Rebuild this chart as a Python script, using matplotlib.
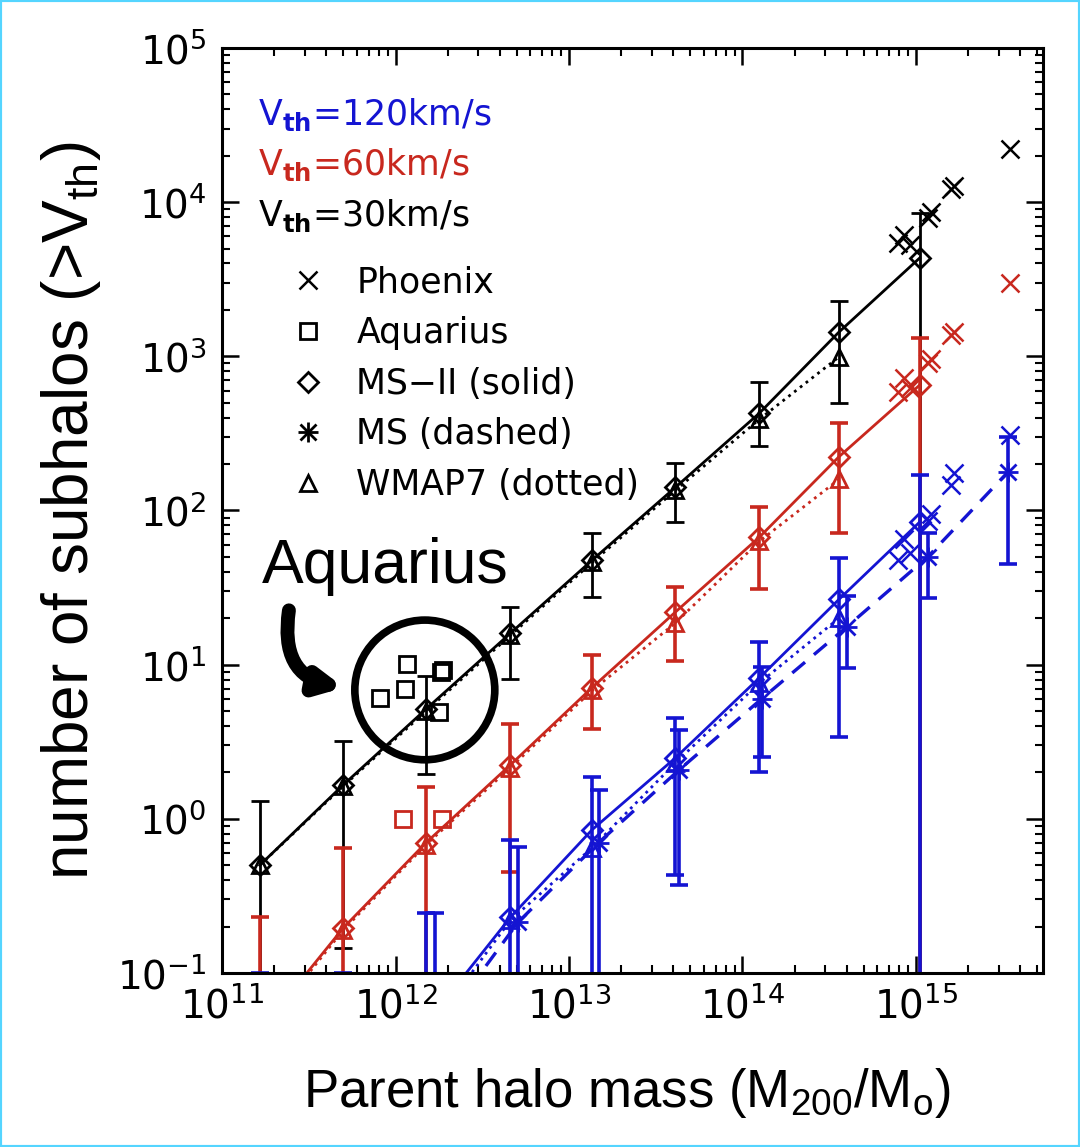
import numpy as np
import matplotlib
matplotlib.use('Agg')
import matplotlib.pyplot as plt
from matplotlib.lines import Line2D
from matplotlib.legend_handler import HandlerTuple
from matplotlib.patches import Ellipse, FancyArrowPatch, Rectangle
from matplotlib.ticker import LogLocator, NullFormatter

plt.rcParams['font.family'] = ['DejaVu Sans']
plt.rcParams['mathtext.fontset'] = 'custom'
plt.rcParams['mathtext.rm'] = 'Liberation Sans'
plt.rcParams['mathtext.bf'] = 'DejaVu Sans:bold'

BLUE = '#1414d2'
RED = '#c8281e'
LOW = 1e-3   # lower end for bars that run off the bottom of the plot

# MS-II (solid) mass bins and subhalo counts
mass_ms2 = [1.65e11, 5.0e11, 1.5e12, 4.6e12, 1.36e13, 4.1e13, 1.25e14, 3.6e14, 1.05e15]
n30_ms2 = [0.50, 1.66, 5.15, 16.0, 47.6, 141, 427, 1436, 4335]
n30_ms2_hi = [1.3, 3.2, 8.5, 23.5, 71, 204, 680, 2300, 8500]
n30_ms2_lo = [LOW, 0.145, 1.96, 8.1, 27.6, 84, 262, 500, LOW]
n60_ms2 = [0.042, 0.196, 0.70, 2.24, 7.1, 21.9, 67, 223, 650]
n60_ms2_hi = [0.23, 0.645, 1.6, 4.1, 11.5, 32, 105, 370, 1320]
n60_ms2_lo = [LOW, LOW, LOW, 0.45, 3.8, 10.5, 31, 71, LOW]
n120_ms2 = [0.005, 0.015, 0.047, 0.23, 0.85, 2.48, 8.2, 26.5, 84]
n120_ms2_hi = [0.1, 0.1, 0.245, 0.73, 1.86, 4.5, 14, 49, 170]
n120_ms2_lo = [LOW, LOW, LOW, LOW, LOW, 0.43, 2.0, 3.4, LOW]

# MS (dashed), only V_th=120 km/s
mass_ms = [1.7e12, 5.1e12, 1.48e13, 4.3e13, 1.29e14, 4.0e14, 1.17e15, 3.4e15]
n120_ms = [0.04, 0.214, 0.70, 2.07, 6.0, 17.6, 50, 178]
n120_ms_hi = [0.245, 0.66, 1.54, 3.77, 9.6, 28, 71, 300]
n120_ms_lo = [LOW, LOW, LOW, 0.37, 2.5, 9.5, 27, 45]

# WMAP7 (dotted)
mass_w7 = [1.65e11, 5.0e11, 1.5e12, 4.6e12, 1.36e13, 4.1e13, 1.25e14, 3.6e14]
n30_w7 = [0.50, 1.63, 5.0, 15.5, 46, 135, 390, 990]
n60_w7 = [0.04, 0.19, 0.68, 2.15, 6.8, 18.6, 63, 159]
n120_w7 = [0.004, 0.012, 0.04, 0.22, 0.65, 2.3, 7.6, 20]

# Phoenix clusters
mass_ph = [7.9e14, 8.5e14, 9.3e14, 1.18e15, 1.22e15, 1.6e15, 1.66e15, 3.5e15]
n30_ph = [5400, 6100, 5300, 7900, 8600, 12200, 12700, 22000]
n60_ph = [590, 720, 620, 900, 960, 1380, 1440, 3000]
n120_ph = [48, 65, 53, 85, 95, 146, 175, 310]

# Aquarius haloes
mass_aq = [8.1e11, 1.13e12, 1.17e12, 1.79e12, 1.84e12, 1.87e12]
n30_aq = [6.1, 7.0, 10.1, 4.9, 9.0, 9.2]
mass_aq60 = [1.11e12, 1.86e12]
n60_aq = [1.0, 1.0]


def errbars(ax, x, y, lo, hi, color, lw):
    y = np.asarray(y)
    yerr = [y - np.asarray(lo), np.asarray(hi) - y]
    ax.errorbar(x, y, yerr=yerr, fmt='none', ecolor=color, elinewidth=lw,
                capsize=6.5, capthick=lw)


fig = plt.figure(figsize=(10.8, 11.47), dpi=100)
ax = fig.add_axes([0.2056, 0.1517, 0.7601, 0.8065])
ax.set_xscale('log')
ax.set_yscale('log')
ax.set_xlim(1e11, 5.4e15)
ax.set_ylim(1e-1, 1e5)

mk = dict(mfc='none', mew=2)
for col, n2, hi, lo, nw in [('k', n30_ms2, n30_ms2_hi, n30_ms2_lo, n30_w7),
                            (RED, n60_ms2, n60_ms2_hi, n60_ms2_lo, n60_w7),
                            (BLUE, n120_ms2, n120_ms2_hi, n120_ms2_lo, n120_w7)]:
    lw = 2 if col == 'k' else 2.6
    errbars(ax, mass_ms2, n2, lo, hi, col, lw)
    ax.plot(mass_ms2, n2, '-', color=col, lw=2, marker='D', ms=10, mec=col, **mk)
    ax.plot(mass_w7, nw, ':', color=col, lw=2, marker='^', ms=12, mec=col, **mk)

errbars(ax, mass_ms, n120_ms, n120_ms_lo, n120_ms_hi, BLUE, 2.6)
ax.plot(mass_ms, n120_ms, '--', color=BLUE, lw=2.4, dashes=(5, 3.5))
ax.plot(mass_ms, n120_ms, ls='none', marker='+', ms=14, mew=2, color=BLUE)
ax.plot(mass_ms, n120_ms, ls='none', marker='x', ms=11, mew=2, color=BLUE)

for col, nph in [('k', n30_ph), (RED, n60_ph), (BLUE, n120_ph)]:
    ax.plot(mass_ph, nph, ls='none', marker='x', ms=13, mew=1.8, color=col)

ax.plot(mass_aq, n30_aq, ls='none', marker='s', ms=12, mec='k', **mk)
ax.plot(mass_aq60, n60_aq, ls='none', marker='s', ms=12, mec=RED, **mk)

# axes styling
for sp in ax.spines.values():
    sp.set_linewidth(2.2)
ax.xaxis.set_major_locator(LogLocator(base=10, numticks=20))
ax.xaxis.set_minor_locator(LogLocator(base=10, subs=np.arange(2, 10), numticks=20))
ax.yaxis.set_major_locator(LogLocator(base=10, numticks=20))
ax.yaxis.set_minor_locator(LogLocator(base=10, subs=np.arange(2, 10), numticks=20))
ax.xaxis.set_minor_formatter(NullFormatter())
ax.yaxis.set_minor_formatter(NullFormatter())
ax.tick_params(which='both', direction='in', top=True, right=True)
ax.tick_params(which='major', length=12, width=1.8, labelsize=28)
ax.tick_params(which='minor', length=6, width=1.5)
ax.tick_params(axis='x', which='major', pad=10)
ax.tick_params(axis='y', which='major', pad=11)

ax.set_xlabel(r'Parent halo mass (M$_{\mathrm{200}}$/M$_{\mathrm{o}}$)',
              family='Liberation Sans', fontsize=38)
ax.xaxis.set_label_coords(0.493, -0.1)
ax.set_ylabel(r'number of subhalos (>V$_{\mathrm{th}}$)',
              family='Liberation Sans', fontsize=46)
ax.yaxis.set_label_coords(-0.145, 0.5)

# threshold velocity labels
for y, col, txt in [(0.928, BLUE, '120'), (0.874, RED, '60'), (0.819, 'k', '30')]:
    ax.text(0.044, y, r'V$_{\mathbf{th}}$=' + txt + 'km/s', color=col,
            fontsize=25, va='center', transform=ax.transAxes)

# symbol key
hx = Line2D([], [], ls='none', marker='x', ms=13, mew=1.8, color='k')
hs = Line2D([], [], ls='none', marker='s', ms=12, mfc='none', mew=2, mec='k')
hd = Line2D([], [], ls='none', marker='D', ms=10, mfc='none', mew=2, mec='k')
hp = Line2D([], [], ls='none', marker='+', ms=14, mew=2, color='k')
hx2 = Line2D([], [], ls='none', marker='x', ms=11, mew=2, color='k')
ht = Line2D([], [], ls='none', marker='^', ms=12, mfc='none', mew=2, mec='k')
ax.legend([hx, hs, hd, (hp, hx2), ht],
          ['Phoenix', 'Aquarius', 'MS\u2212II (solid)', 'MS (dashed)', 'WMAP7 (dotted)'],
          handler_map={tuple: HandlerTuple(ndivide=1, pad=0)},
          loc='upper left', bbox_to_anchor=(0.0834, 0.765), frameon=False,
          fontsize=25, handlelength=1.0, handletextpad=0.9, labelspacing=0.48,
          borderpad=0, borderaxespad=0)

# Aquarius highlight
ax.add_patch(Ellipse((0.247, 0.306), 0.1705, 0.151, transform=ax.transAxes,
                     fill=False, lw=5.5, ec='k', clip_on=False))
ax.add_patch(FancyArrowPatch((0.082, 0.395), (0.152, 0.308), transform=ax.transAxes,
                             connectionstyle='arc3,rad=0.5', arrowstyle='-|>',
                             mutation_scale=34, lw=10, color='k'))
ax.text(0.1985, 0.439, 'Aquarius', family='Liberation Sans', fontsize=45,
        ha='center', va='center', transform=ax.transAxes)

fig.patches.append(Rectangle((0, 0), 1, 1, transform=fig.transFigure,
                             fill=False, ec='#55d5ff', lw=3))

fig.savefig('out.png', dpi=100)
